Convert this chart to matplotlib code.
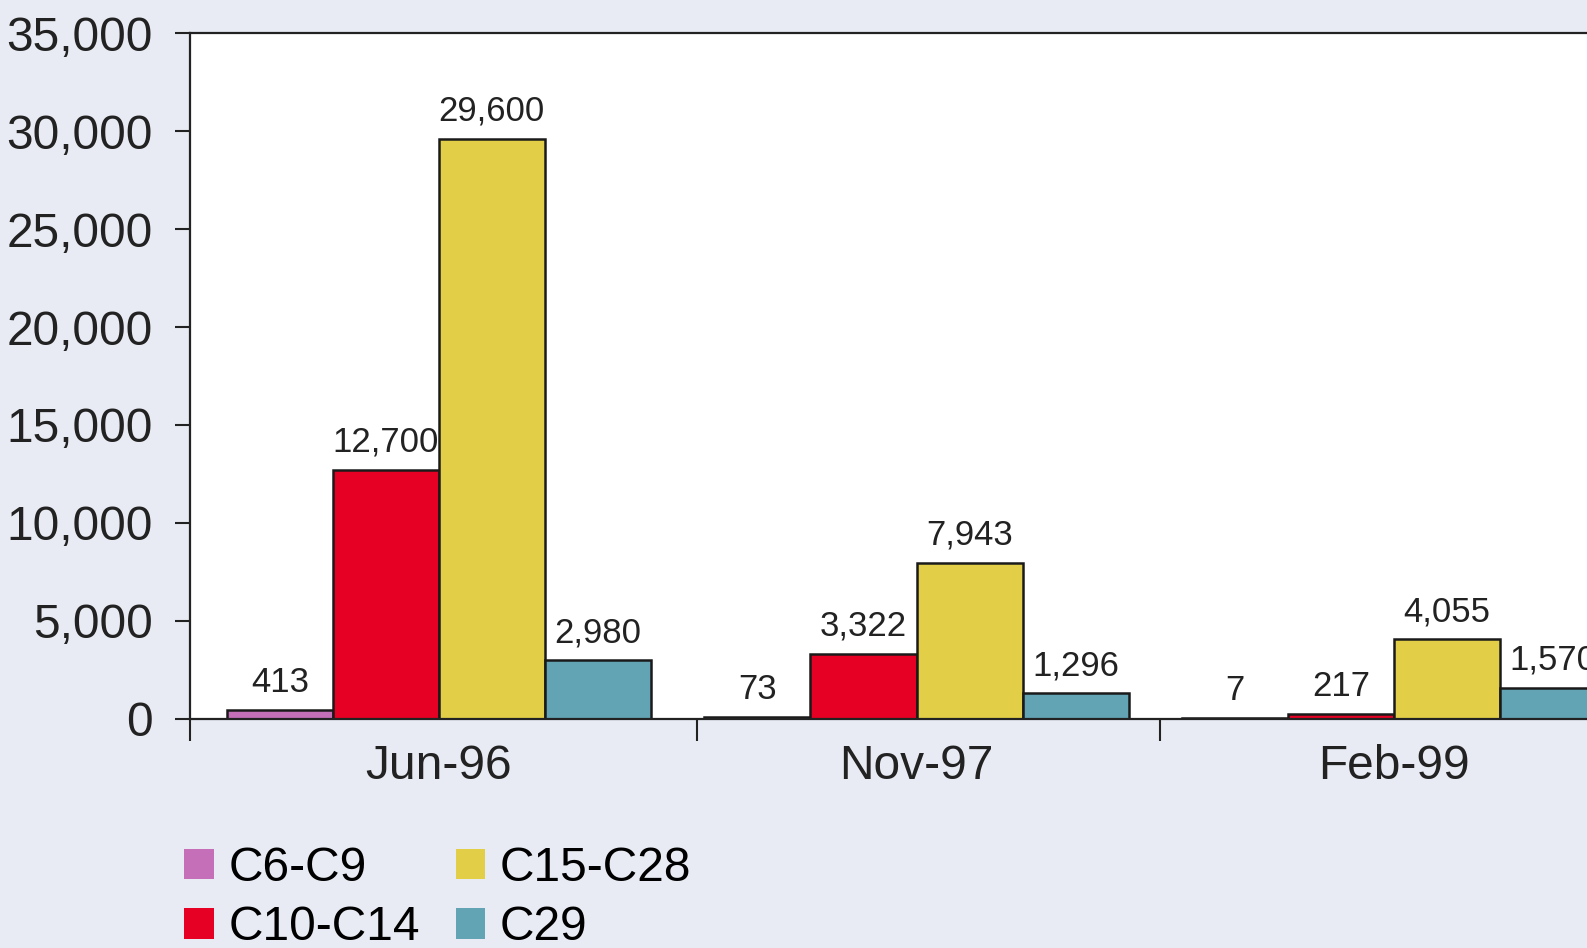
import matplotlib
matplotlib.use('Agg')
import matplotlib.pyplot as plt
import numpy as np

# data
dates = ['Jun-96', 'Nov-97', 'Feb-99']
series = ['C6-C9', 'C10-C14', 'C15-C28', 'C29']
c6_c9 = [413, 73, 7]
c10_c14 = [12700, 3322, 217]
c15_c28 = [29600, 7943, 4055]
c29 = [2980, 1296, 1570]
colors = ['#c46fb8', '#e60023', '#e3cf47', '#62a4b4']

plt.rcParams['font.family'] = ['Liberation Sans', 'DejaVu Sans']

fig = plt.figure(figsize=(15.87, 9.48), dpi=100)
fig.patch.set_facecolor('#e8ebf3')
ax = fig.add_axes([0.12, 0.242, 0.909, 0.7228])
ax.set_facecolor('white')

x = np.arange(len(dates))
w = 0.222
values = [c6_c9, c10_c14, c15_c28, c29]
for i, (name, vals, col) in enumerate(zip(series, values, colors)):
    pos = x + (i - 1.5) * w
    bars = ax.bar(pos, vals, w, color=col, edgecolor='#1a1a1a', linewidth=1.8, label=name)
    for b, v in zip(bars, vals):
        ax.annotate(f'{v:,}', (b.get_x() + b.get_width() / 2, v),
                    xytext=(0, 8), textcoords='offset points',
                    ha='center', va='bottom', fontsize=25, color='#222222',
                    annotation_clip=False)

ax.set_xlim(-0.52, 2.5)
ax.set_ylim(0, 35000)
ax.set_yticks(range(0, 35001, 5000))
ax.set_yticklabels([f'{t:,}' for t in range(0, 35001, 5000)])
ax.tick_params(axis='y', length=11, width=1.5, pad=16, labelsize=34.5, colors='#222222')

ax.set_xticks(x)
ax.set_xticklabels(dates)
ax.tick_params(axis='x', which='major', length=0, pad=18, labelsize=34.5, colors='#222222')
ax.set_xticks([-0.52, 0.54, 1.51], minor=True)
ax.tick_params(axis='x', which='minor', length=16, width=1.5, direction='out', color='#222222')

for s in ax.spines.values():
    s.set_linewidth(1.6)
    s.set_color('#222222')

leg = fig.legend(loc='upper left', bbox_to_anchor=(0.101, 0.133), ncol=2, frameon=False,
                 fontsize=34.5, handlelength=0.62, handleheight=0.6, handletextpad=0.3,
                 columnspacing=0.75, labelspacing=0.3, borderpad=0)
for h in leg.legend_handles:
    h.set_edgecolor('none')

fig.savefig('out.png', dpi=100, facecolor=fig.get_facecolor())
